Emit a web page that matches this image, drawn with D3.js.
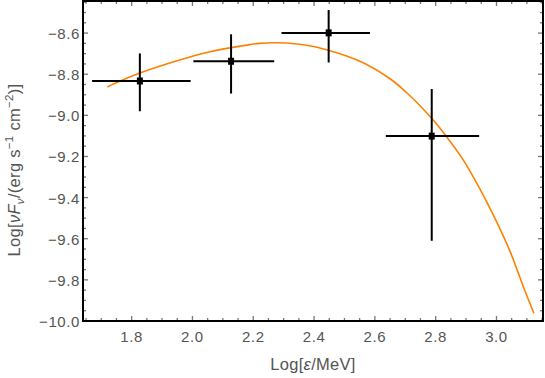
<!DOCTYPE html>
<html><head><meta charset="utf-8">
<script src="https://cdn.jsdelivr.net/npm/d3@7"></script>
<style>body{margin:0;background:#fff}svg{display:block}text{font-family:"Liberation Sans",Arial,sans-serif}</style>
</head><body>
<script>
// Data points with error bars
const ptX  = [1.827, 2.127, 2.448, 2.787];
const ptY  = [-8.833, -8.737, -8.599, -9.101];
const xLo  = [1.670, 2.003, 2.293, 2.636];
const xHi  = [1.994, 2.269, 2.584, 2.943];
const yLo  = [-8.980, -8.894, -8.743, -9.610];
const yHi  = [-8.699, -8.606, -8.488, -8.872];
// Model curve
const curveX = [1.720,1.762,1.827,1.915,1.992,2.058,2.123,2.189,2.222,2.266,2.310,2.376,2.441,2.507,2.573,2.650,2.705,2.787,2.836,2.891,2.940,2.989,3.044,3.088,3.123];
const curveY = [-8.862,-8.833,-8.794,-8.750,-8.716,-8.691,-8.672,-8.656,-8.650,-8.647,-8.648,-8.659,-8.681,-8.712,-8.753,-8.822,-8.890,-9.014,-9.104,-9.218,-9.343,-9.483,-9.659,-9.832,-9.962];
const xTicks = [1.8, 2.0, 2.2, 2.4, 2.6, 2.8, 3.0];
const yTicks = [-10.0, -9.8, -9.6, -9.4, -9.2, -9.0, -8.8, -8.6];

const W = 545, H = 378;
const m = {left: 83, top: 1, right: 2, bottom: 57};
const svg = d3.select("body").append("svg").attr("width", W).attr("height", H);
const x = d3.scaleLinear().domain([1.64, 3.153]).range([m.left, W - m.right]);
const y = d3.scaleLinear().domain([-10.0, -8.444]).range([H - m.bottom, m.top]);

const minorX = d3.range(1.65, 3.153, 0.05).filter(v => !xTicks.some(t => Math.abs(t - v) < 1e-6));
const minorY = d3.range(-10.0, -8.444, 0.05).filter(v => !yTicks.some(t => Math.abs(t - v) < 1e-6));

const tickCol = "#777";
const labCol = "#555";
const g = svg.append("g");
function ticks(vals, len){
  vals.forEach(v => {
    const px = x(v);
    g.append("line").attr("x1", px).attr("x2", px).attr("y1", y.range()[0]).attr("y2", y.range()[0] - len).attr("stroke", tickCol).attr("stroke-width", 1.3);
    g.append("line").attr("x1", px).attr("x2", px).attr("y1", y.range()[1]).attr("y2", y.range()[1] + len).attr("stroke", tickCol).attr("stroke-width", 1.3);
  });
}
function ticksY(vals, len){
  vals.forEach(v => {
    const py = y(v);
    g.append("line").attr("y1", py).attr("y2", py).attr("x1", x.range()[0]).attr("x2", x.range()[0] + len).attr("stroke", tickCol).attr("stroke-width", 1.3);
    g.append("line").attr("y1", py).attr("y2", py).attr("x1", x.range()[1]).attr("x2", x.range()[1] - len).attr("stroke", tickCol).attr("stroke-width", 1.3);
  });
}
ticks(xTicks, 5); ticks(minorX, 3);
ticksY(yTicks, 5); ticksY(minorY, 3);

// tick labels
xTicks.forEach(v => g.append("text").attr("x", x(v)).attr("y", 342).attr("text-anchor", "middle")
  .attr("font-size", 15).attr("letter-spacing", 0.6).attr("fill", labCol).text(d3.format(".1f")(v)));
yTicks.forEach(v => g.append("text").attr("x", 80).attr("y", y(v) + 6).attr("text-anchor", "end")
  .attr("font-size", 15).attr("letter-spacing", 0.6).attr("fill", labCol).text(d3.format(".1f")(v).replace("-", "\u2212\u2009")));

// frame
svg.append("rect").attr("x", m.left).attr("y", m.top).attr("width", W - m.left - m.right).attr("height", H - m.top - m.bottom)
  .attr("fill", "none").attr("stroke", "#000").attr("stroke-width", 2);

// curve
const line = d3.line().x(d => x(d[0])).y(d => y(d[1])).curve(d3.curveCatmullRom.alpha(0.5));
svg.append("path").datum(curveX.map((v, i) => [v, curveY[i]])).attr("d", line)
  .attr("fill", "none").attr("stroke", "#ff8000").attr("stroke-width", 1.6);

// error bars & markers
const eg = svg.append("g");
ptX.forEach((v, i) => {
  eg.append("line").attr("x1", x(xLo[i])).attr("x2", x(xHi[i])).attr("y1", y(ptY[i])).attr("y2", y(ptY[i])).attr("stroke", "#000").attr("stroke-width", 2);
  eg.append("line").attr("x1", x(v)).attr("x2", x(v)).attr("y1", y(yLo[i])).attr("y2", y(yHi[i])).attr("stroke", "#000").attr("stroke-width", 2);
  eg.append("rect").attr("x", x(v) - 3).attr("y", y(ptY[i]) - 3.5).attr("width", 6).attr("height", 7).attr("fill", "#000");
});

// axis labels
const xl = svg.append("text").attr("x", 313).attr("y", 370).attr("text-anchor", "middle").attr("font-size", 16.5).attr("letter-spacing", 0.3).attr("fill", labCol);
xl.append("tspan").text("Log[");
xl.append("tspan").attr("font-style", "italic").text("\u03b5");
xl.append("tspan").text("/MeV]");

const yl = svg.append("text").attr("transform", "translate(19.5,170) rotate(-90)").attr("text-anchor", "middle").attr("font-size", 16.5).attr("letter-spacing", 0.3).attr("fill", labCol);
yl.append("tspan").text("Log[");
yl.append("tspan").attr("font-style", "italic").text("\u03bd");
yl.append("tspan").attr("font-style", "italic").text("F");
yl.append("tspan").attr("font-style", "italic").attr("font-size", 11.5).attr("dy", 4).text("\u03bd");
yl.append("tspan").attr("dy", -4).text("/(erg s");
yl.append("tspan").attr("font-size", 11.5).attr("dy", -7).text("\u22121");
yl.append("tspan").attr("dy", 7).text(" cm");
yl.append("tspan").attr("font-size", 11.5).attr("dy", -7).text("\u22122");
yl.append("tspan").attr("dy", 7).text(")]");
</script>
</body></html>
